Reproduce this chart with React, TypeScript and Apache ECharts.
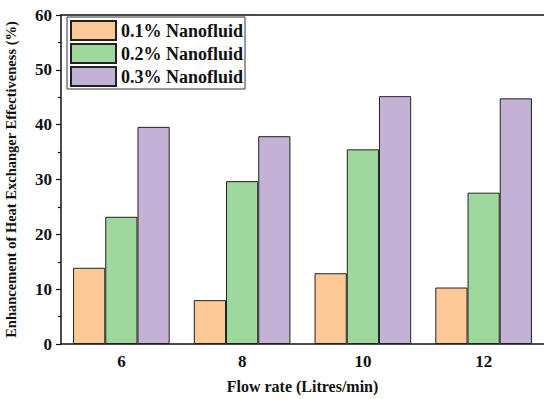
import React, { useEffect, useRef } from "react";
import * as echarts from "echarts";

const categories = ["6", "8", "10", "12"];
const seriesNames = ["0.1% Nanofluid", "0.2% Nanofluid", "0.3% Nanofluid"];
const s01 = [13.9, 8.0, 12.9, 10.3];
const s02 = [23.2, 29.7, 35.5, 27.6];
const s03 = [39.6, 37.9, 45.2, 44.8];
const colors = ["#FCC997", "#9ED89C", "#C3B1D6"];

const FONT = "'Liberation Serif', 'Times New Roman', serif";

export default function App() {
  const ref = useRef<HTMLDivElement>(null);
  useEffect(() => {
    if (!ref.current) return;
    const chart = echarts.init(ref.current, undefined, { renderer: "svg" });
    const data = [s01, s02, s03];
    chart.setOption({
      animation: false,
      grid: { left: 61, right: 0, top: 15, bottom: 55, outerBoundsMode: "none", containLabel: false },
      legend: {
        orient: "vertical",
        left: 67,
        top: 17,
        padding: [3, 2, 2, 3],
        itemGap: 2,
        itemWidth: 45,
        itemHeight: 19,
        borderColor: "#333",
        borderWidth: 1,
        icon: "rect",
        textStyle: { fontFamily: FONT, fontWeight: "bold", fontSize: 18, lineHeight: 19, color: "#111" },
        data: seriesNames,
      },
      xAxis: [
        {
          type: "category",
          data: categories,
          name: "Flow rate (Litres/min)",
          nameLocation: "middle",
          nameGap: 34,
          nameTextStyle: { fontFamily: FONT, fontWeight: "bold", fontSize: 16, color: "#111" },
          axisLine: { lineStyle: { color: "#111", width: 1.5 } },
          axisTick: { alignWithLabel: true, length: 5, lineStyle: { color: "#111", width: 1.2 } },
          axisLabel: { fontFamily: FONT, fontWeight: "bold", fontSize: 17, color: "#111", margin: 9 },
        },
        {
          type: "category",
          data: categories,
          position: "bottom",
          axisLine: { show: false },
          axisTick: { length: 3, lineStyle: { color: "#111", width: 1.2 } },
          axisLabel: { show: false },
        },
        {
          type: "category",
          data: categories,
          position: "top",
          axisLine: { lineStyle: { color: "#111", width: 1.5 } },
          axisTick: { show: false },
          axisLabel: { show: false },
        },
      ],
      yAxis: {
        type: "value",
        min: 0,
        max: 60,
        interval: 10,
        name: "Enhancement of Heat Exchanger Effectiveness (%)",
        nameLocation: "middle",
        nameGap: 43,
        nameTextStyle: { fontFamily: FONT, fontWeight: "bold", fontSize: 14.5, color: "#111" },
        axisLine: { show: true, lineStyle: { color: "#111", width: 1.5 } },
        axisTick: { show: true, length: 5, lineStyle: { color: "#111", width: 1.2 } },
        minorTick: { show: true, splitNumber: 2, length: 3, lineStyle: { color: "#111", width: 1.2 } },
        splitLine: { show: false },
        axisLabel: { fontFamily: FONT, fontWeight: "bold", fontSize: 17, color: "#111", margin: 9 },
      },
      series: seriesNames.map((name, i) => ({
        name,
        type: "bar",
        xAxisIndex: 0,
        data: data[i],
        barGap: "0%",
        barCategoryGap: "20%",
        itemStyle: { color: colors[i], borderColor: "#222", borderWidth: 1 },
      })),
    });
    return () => chart.dispose();
  }, []);
  return (
    <div
      ref={ref}
      style={{ position: "fixed", left: 0, top: 0, width: 544, height: 399, background: "#fff" }}
    />
  );
}
